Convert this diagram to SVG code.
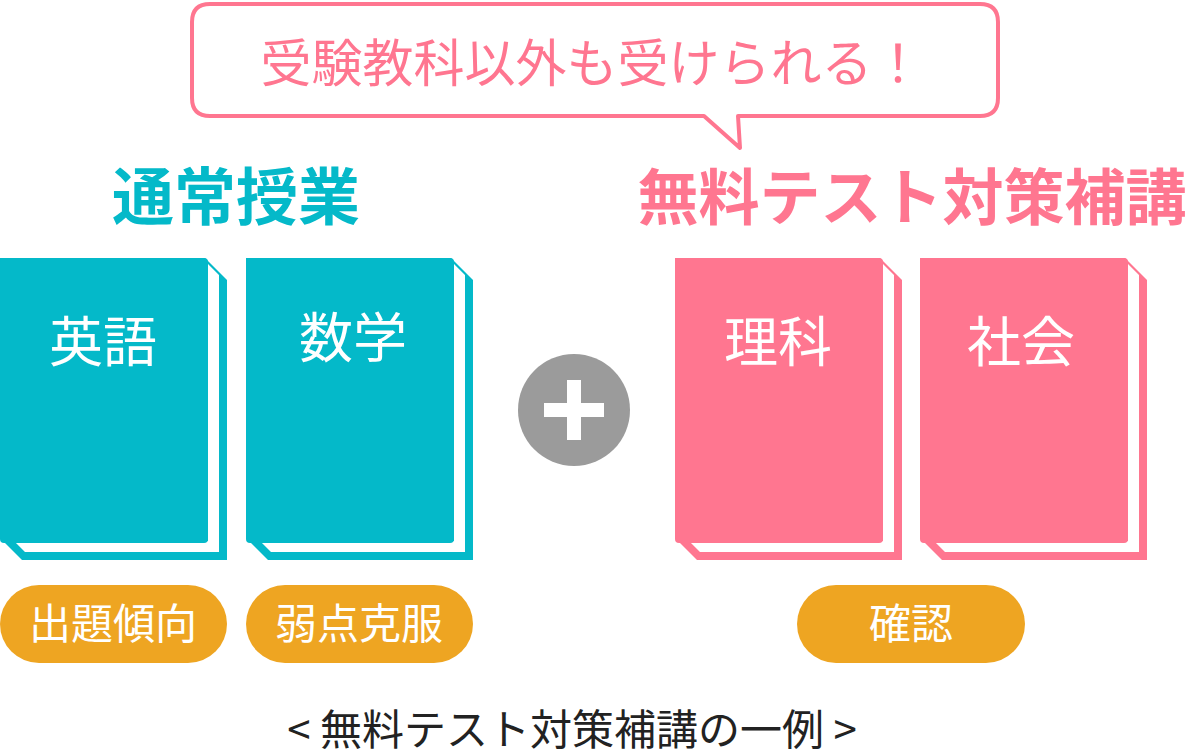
<svg xmlns="http://www.w3.org/2000/svg" width="1186" height="756" viewBox="0 0 1186 756">
<style>
text{font-family:"Noto Sans CJK JP","Noto Sans",sans-serif;text-anchor:middle}
.t{fill:#04b9c9}.p{fill:#ff7690}
.bt{font-size:54px;fill:#fff}
.pl{font-size:42px;fill:#fff}
.pill{fill:#eea522}
</style>
<defs>
<g id="pages"><polygon points="208,264 219,275 219,552 25,552 14,541 208,541" fill="#fff"/></g>
</defs>
<rect width="1186" height="756" fill="#fff"/>
<g id="bubble">
<path d="M210,4 H980 Q998,4 998,22 V98 Q998,116 980,116 H738 L740,148 L704,116 H210 Q192,116 192,98 V22 Q192,4 210,4 Z" fill="#fff" stroke="#ff7690" stroke-width="4" stroke-linejoin="round"/>
<text x="592" y="82" font-size="51" class="p">受験教科以外も受けられる！</text>
</g>
<text x="236" y="220" font-size="62" font-weight="bold" class="t">通常授業</text>
<text x="912" y="220" font-size="61" font-weight="bold" class="p">無料テスト対策補講</text>
<g id="book-eigo">
<polygon points="0,258 205,258 227,280 227,560 22,560 0,538" class="t"/><use href="#pages"/>
<rect x="0" y="258" width="208" height="285" rx="4" class="t"/>
<text x="103" y="362" class="bt">英語</text></g>
<g id="book-sugaku" transform="translate(246,0)">
<polygon points="0,258 205,258 227,280 227,560 22,560 0,538" class="t"/><use href="#pages"/>
<rect x="0" y="258" width="208" height="285" rx="4" class="t"/>
<text x="107" y="358" class="bt">数学</text></g>
<g id="book-rika" transform="translate(675,0)">
<polygon points="0,258 205,258 227,280 227,560 22,560 0,538" class="p"/><use href="#pages"/>
<rect x="0" y="258" width="208" height="285" rx="4" class="p"/>
<text x="103" y="362" class="bt">理科</text></g>
<g id="book-shakai" transform="translate(920,0)">
<polygon points="0,258 205,258 227,280 227,560 22,560 0,538" class="p"/><use href="#pages"/>
<rect x="0" y="258" width="208" height="285" rx="4" class="p"/>
<text x="101" y="362" class="bt">社会</text></g>
<g id="plus">
<circle cx="574" cy="410" r="56" fill="#9b9b9b"/>
<rect x="544" y="403" width="60" height="14" fill="#fff"/><rect x="567" y="380" width="14" height="60" fill="#fff"/>
</g>
<g id="pill1"><rect x="0" y="585" width="227" height="78" rx="39" class="pill"/><text x="113" y="639" class="pl">出題傾向</text></g>
<g id="pill2"><rect x="246" y="585" width="227" height="78" rx="39" class="pill"/><text x="359" y="639" class="pl">弱点克服</text></g>
<g id="pill3"><rect x="797" y="585" width="228" height="78" rx="39" class="pill"/><text x="911" y="639" class="pl">確認</text></g>
<g id="connectors"/>
<text x="572" y="745" font-size="42" fill="#222">&lt;  無料テスト対策補講の一例  &gt;</text>
</svg>
